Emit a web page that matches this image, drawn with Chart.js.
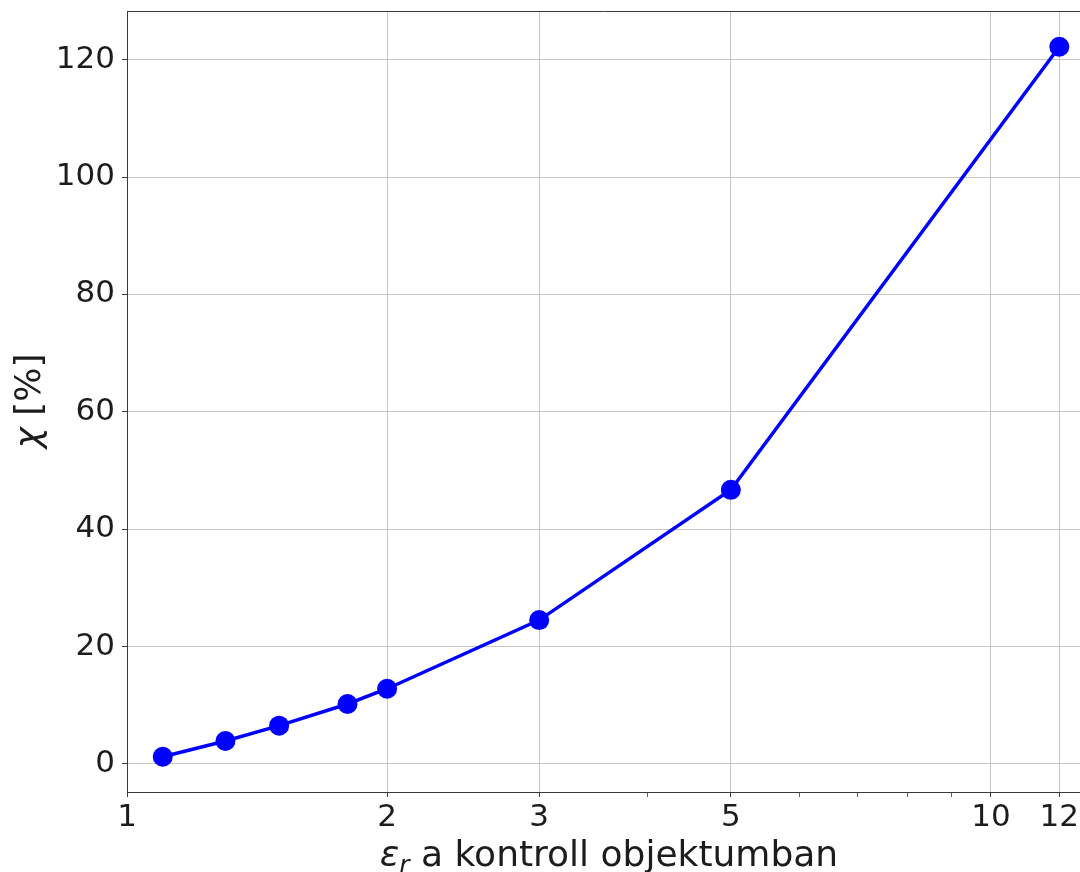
<!DOCTYPE html>
<html>
<head>
<meta charset="utf-8">
<script src="https://cdn.jsdelivr.net/npm/chart.js@4.4.0/dist/chart.umd.min.js"></script>
<style>
  html, body { margin: 0; padding: 0; background: #fff; }
  #wrap { width: 1080px; height: 872px; }
</style>
</head>
<body>
<div id="wrap"><canvas id="chiChart" width="1080" height="872"></canvas></div>
<script>
// values
const epsR = [1.1, 1.3, 1.5, 1.8, 2, 3, 5, 12];
const chi = [1.2, 3.9, 6.5, 10.2, 12.8, 24.5, 46.7, 122.2];
const xTicks = [1, 2, 3, 5, 10, 12];
const xMinorTicks = [4, 6, 7, 8, 9];
const yTicks = [0, 20, 40, 60, 80, 100, 120];

const FONT = 'DejaVu Sans';
const TEXT = '#1c1c1c';
const SPINE = '#3a3a3a';
const GRID = '#c6c6c6';

// top spine + axis titles (mathtext-style epsilon_r and chi)
const extras = {
  id: 'extras',
  afterDraw(chart) {
    const { ctx, chartArea } = chart;
    ctx.save();
    ctx.strokeStyle = SPINE;
    ctx.lineWidth = 1;
    ctx.beginPath();
    ctx.moveTo(chartArea.left, chartArea.top + 0.5);
    ctx.lineTo(chartArea.right, chartArea.top + 0.5);
    ctx.stroke();

    ctx.fillStyle = TEXT;
    ctx.textBaseline = 'alphabetic';
    ctx.textAlign = 'left';

    // x title
    const big = '36px "' + FONT + '"';
    const bigIt = 'italic 36px "' + FONT + '"';
    const subIt = 'italic 25px "' + FONT + '"';
    const rest = ' a kontroll objektumban';
    ctx.font = bigIt; const wE = ctx.measureText('ε').width;
    ctx.font = subIt; const wR = ctx.measureText('r').width;
    ctx.font = big; const wRest = ctx.measureText(rest).width;
    let x = 609 - (wE + wR + wRest) / 2;
    const base = 866;
    ctx.font = bigIt; ctx.fillText('ε', x, base); x += wE;
    ctx.font = subIt; ctx.fillText('r', x, base + 7); x += wR;
    ctx.font = big; ctx.fillText(rest, x, base);

    // y title
    ctx.translate(40, 401);
    ctx.rotate(-Math.PI / 2);
    ctx.font = bigIt; const wC = ctx.measureText('χ').width;
    ctx.font = big; const wP = ctx.measureText(' [%]').width;
    let yx = -(wC + wP) / 2;
    ctx.font = bigIt; ctx.fillText('χ', yx, 0); yx += wC;
    ctx.font = big; ctx.fillText(' [%]', yx, 0);
    ctx.restore();
  }
};

new Chart(document.getElementById('chiChart').getContext('2d'), {
  type: 'scatter',
  data: {
    datasets: [{
      data: epsR.map((v, i) => ({ x: v, y: chi[i] })),
      showLine: true,
      borderColor: '#0000ff',
      borderWidth: 3.5,
      pointRadius: 10,
      pointBackgroundColor: '#0000ff',
      pointBorderWidth: 0,
      clip: false
    }]
  },
  options: {
    responsive: false,
    animation: false,
    devicePixelRatio: 1,
    layout: { autoPadding: false, padding: { top: 11, right: 0, left: 0, bottom: 0 } },
    plugins: { legend: { display: false }, tooltip: { enabled: false } },
    scales: {
      x: {
        type: 'logarithmic',
        min: 1,
        max: 12.68,
        afterBuildTicks: s => {
          s.ticks = xTicks.concat(xMinorTicks).sort((a, b) => a - b).map(v => ({ value: v }));
        },
        afterFit: s => {
          s.height = 80;
          s.paddingLeft = 0;
          s.paddingRight = 0;
        },
        ticks: {
          autoSkip: false,
          maxRotation: 0,
          padding: 2,
          color: TEXT,
          font: { family: FONT, size: 31 },
          callback: v => xTicks.includes(v) ? String(v) : ''
        },
        grid: {
          color: c => (c.tick && xTicks.includes(c.tick.value)) ? GRID : 'rgba(0,0,0,0)',
          lineWidth: 1,
          tickColor: SPINE,
          tickWidth: c => (c.tick && xTicks.includes(c.tick.value)) ? 1 : 0.8,
          tickLength: 5
        },
        border: { color: SPINE, width: 1 }
      },
      y: {
        min: -4.8,
        max: 128.3,
        afterBuildTicks: s => {
          s.ticks = yTicks.map(v => ({ value: v }));
        },
        afterFit: s => {
          s.width = 127;
          s.paddingTop = 0;
          s.paddingBottom = 0;
        },
        ticks: {
          padding: 7,
          color: TEXT,
          font: { family: FONT, size: 31 }
        },
        grid: { color: GRID, lineWidth: 1, tickColor: SPINE, tickLength: 5 },
        border: { color: SPINE, width: 1 }
      }
    }
  },
  plugins: [extras]
});
</script>
</body>
</html>
